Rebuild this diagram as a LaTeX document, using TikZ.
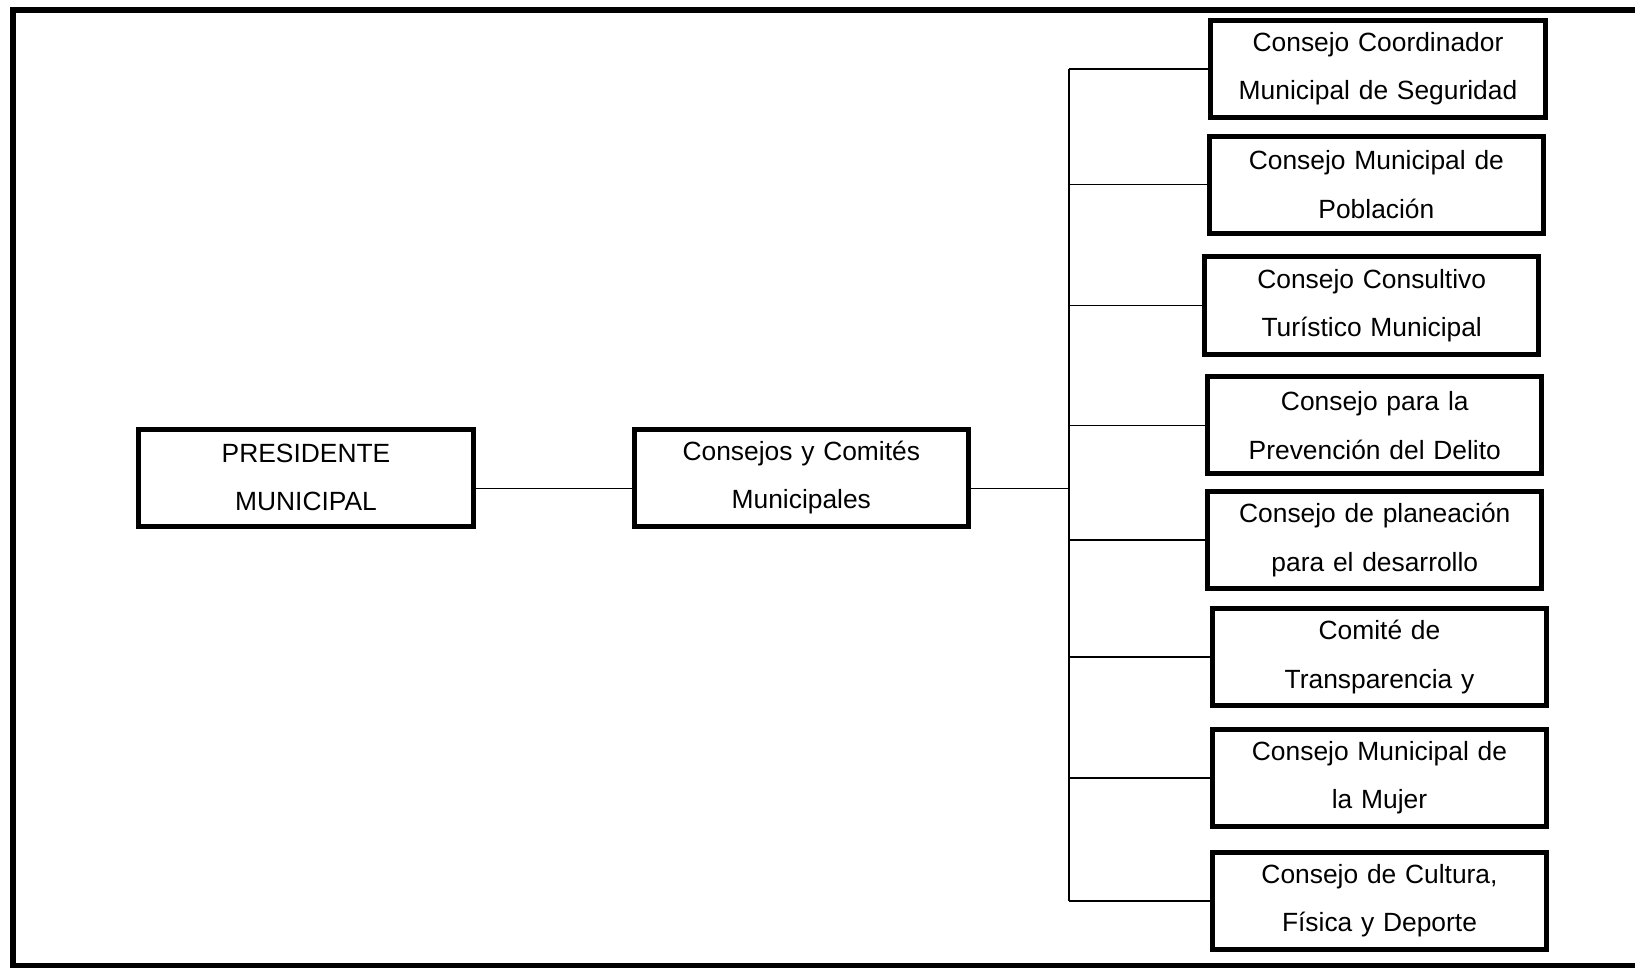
\documentclass[tikz,border=0pt]{standalone}
\usepackage{fontspec}
\setmainfont{Liberation Sans}
\usetikzlibrary{positioning}

\begin{document}
\begin{tikzpicture}[x=0.01cm, y=-0.01cm,
  font=\fontsize{7.5}{13.8}\selectfont,
  every node/.style={align=center},
  orgbox/.style={draw, line width=0.05cm, minimum width=3.34cm, minimum height=0.97cm, inner sep=0pt, text width=3.25cm},
  link/.style={line width=0.45pt}]

\useasboundingbox (0,0) rectangle (1635,968);

% outer frame, its right side runs off the page
\draw[line width=0.053cm] (1645,10) -- (13,10) -- (13,966) -- (1645,966);

% left part
\node[orgbox] (pres) at (306,477.6) {PRESIDENTE\\MUNICIPAL};
\node[orgbox] (consejos) at (801.3,477.6) {Consejos y Comités\\Municipales};

% right column
\node[orgbox] (seguridad) at (1378,68.8) {Consejo Coordinador\\Municipal de Seguridad};
\node[orgbox] (poblacion) at (1376.4,184.6) {Consejo Municipal de\\Población};
\node[orgbox] (turismo) at (1371.7,305.5) {Consejo Consultivo\\Turístico Municipal};
\node[orgbox] (delito) at (1374.8,425.4) {Consejo para la\\Prevención del Delito};
\node[orgbox] (planeacion) at (1374.8,540.1) {Consejo de planeación\\para el desarrollo};
\node[orgbox] (transparencia) at (1379.5,656.9) {Comité de\\Transparencia y};
\node[orgbox] (mujer) at (1379.5,777.9) {Consejo Municipal de\\la Mujer};
\node[orgbox] (cultura) at (1379.5,900.9) {Consejo de Cultura,\\Física y Deporte};

% connectors
\coordinate (bus) at (1068.8,0);
\draw[link] ([yshift=-0.11cm]pres.east) -- ([yshift=-0.11cm]consejos.west);
\draw[link] ([yshift=-0.11cm]consejos.east) -- ([yshift=-0.11cm]consejos.east -| bus);
\draw[link] (bus |- seguridad.west) -- (bus |- cultura.west);
\foreach \n in {seguridad,poblacion,turismo,delito,planeacion,transparencia,mujer,cultura}
  \draw[link] (bus |- \n.west) -- (\n.west);

\end{tikzpicture}
\end{document}
